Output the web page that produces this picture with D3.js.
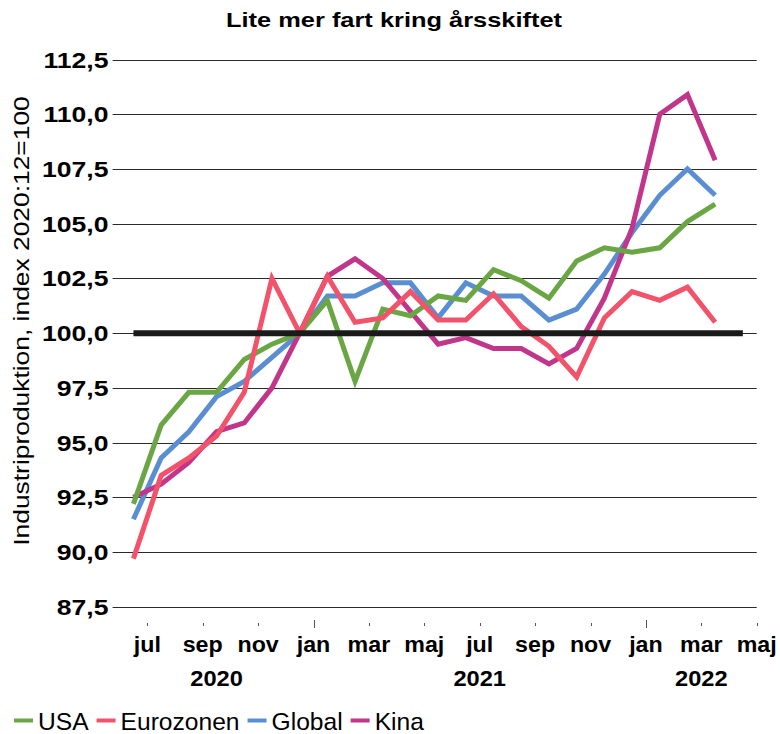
<!DOCTYPE html>
<html>
<head>
<meta charset="utf-8">
<style>
body { margin: 0; background: #fff; }
svg { display: block; }
text { font-family: "Liberation Sans", Arial, sans-serif; fill: #000; }
</style>
</head>
<body>
<svg width="780" height="734"></svg>
<script src="https://cdn.jsdelivr.net/npm/d3@7"></script>
<script>

// monthly values, jun 2020 .. mar 2022 (index 2020:12 = 100)
var usa    = [92.2, 95.8, 97.3, 97.3, 98.8, 99.5, 100.0, 101.5, 97.8, 101.1, 100.8, 101.7, 101.5, 102.9, 102.4, 101.6, 103.3, 103.9, 103.7, 103.9, 105.1, 105.9];
var euro   = [89.7, 93.5, 94.3, 95.3, 97.3, 102.5, 100.0, 102.6, 100.5, 100.7, 101.9, 100.6, 100.6, 101.8, 100.3, 99.4, 98.0, 100.7, 101.9, 101.5, 102.1, 100.5];
var global = [91.5, 94.3, 95.5, 97.1, 97.8, 98.9, 100.0, 101.7, 101.7, 102.3, 102.3, 100.7, 102.3, 101.7, 101.7, 100.6, 101.1, 102.7, 104.6, 106.3, 107.5, 106.3];
var kina   = [92.5, 93.1, 94.1, 95.5, 95.9, 97.5, 100.0, 102.6, 103.4, 102.5, 101.0, 99.5, 99.8, 99.3, 99.3, 98.6, 99.3, 101.6, 104.8, 110.0, 110.9, 107.9];

// reference line at 100, jun 2020 .. apr 2022
var refLevel = 100;
var refMonths = 23;

var seriesNames = ["USA", "Eurozonen", "Global", "Kina"];
var seriesColors = ["#6ba644", "#f2526a", "#5a8ed2", "#c1358b"];
var seriesData = [usa, euro, global, kina];
var drawOrder = [2, 3, 0, 1];

// month ticks, counted from jun 2020 = 0 (tick at start of month)
var tickMonths = [1, 3, 5, 7, 9, 11, 13, 15, 17, 19, 21, 23];
var tickLabels = ["jul", "sep", "nov", "jan", "mar", "maj", "jul", "sep", "nov", "jan", "mar", "maj"];
var janMonths = [7, 19];
var years = ["2020", "2021", "2022"];
var yearSpans = [[0, 7], [7, 19], [19, 23]];

var yTicks = [87.5, 90, 92.5, 95, 97.5, 100, 102.5, 105, 107.5, 110, 112.5];

var svg = d3.select("svg");

var x = d3.scaleLinear().domain([0, 23]).range([119.6, 756.7]);
var y = d3.scaleLinear().domain([87.5, 112.5]).range([606.8, 59.6]);

var fmt = d3.formatLocale({decimal: ",", thousands: " ", grouping: [3], currency: ["", ""]}).format(".1f");

function stext(g, tx, ty, str, size, weight, anchor, sx) {
    return g.append("text")
        .attr("transform", "translate(" + tx + "," + ty + ") scale(" + sx + ",1)")
        .attr("text-anchor", anchor)
        .style("font-size", size + "px")
        .style("font-weight", weight)
        .text(str);
}

// title
stext(svg, 394, 27, "Lite mer fart kring årsskiftet", 21, "bold", "middle", 1.21);

// gridlines + y ticks
var grid = svg.append("g");
grid.selectAll("line.grid")
    .data(yTicks)
    .enter().append("line")
    .attr("class", "grid")
    .attr("x1", x(0) - 7)
    .attr("x2", x(23))
    .attr("y1", function(d) { return Math.round(y(d)) + 0.5; })
    .attr("y2", function(d) { return Math.round(y(d)) + 0.5; })
    .attr("stroke", "#2a2a2a")
    .attr("stroke-width", 1.2);

yTicks.forEach(function(d) {
    stext(svg, 108.5, y(d) + 8, fmt(d), 22.5, "bold", "end", 1.18);
});

// x ticks
svg.selectAll("line.xtick")
    .data(tickMonths)
    .enter().append("line")
    .attr("class", "xtick")
    .attr("x1", function(d) { return Math.round(x(d)) + 0.5; })
    .attr("x2", function(d) { return Math.round(x(d)) + 0.5; })
    .attr("y1", function(d) { return janMonths.indexOf(d) >= 0 ? 620 : 623; })
    .attr("y2", function(d) { return janMonths.indexOf(d) >= 0 ? 628 : 626; })
    .attr("stroke", "#555")
    .attr("stroke-width", 1);

tickMonths.forEach(function(m, i) {
    stext(svg, x(m), 652, tickLabels[i], 21.5, "bold", "middle", 1.08);
});

years.forEach(function(yr, i) {
    var mid = (yearSpans[i][0] + yearSpans[i][1]) / 2;
    stext(svg, x(mid), 686, yr, 21.5, "bold", "middle", 1.1);
});

// y axis title
svg.append("text")
    .attr("transform", "translate(29,321) rotate(-90) scale(1.2,1)")
    .attr("text-anchor", "middle")
    .style("font-size", "22px")
    .text("Industriproduktion, index 2020:12=100");

// series
var line = d3.line()
    .x(function(d, i) { return x(i + 0.5); })
    .y(function(d) { return y(d); });

drawOrder.forEach(function(k) {
    svg.append("path")
        .datum(seriesData[k])
        .attr("d", line)
        .attr("fill", "none")
        .attr("stroke", seriesColors[k])
        .attr("stroke-width", 5)
        .attr("stroke-linejoin", "miter");
});

// 100 line
svg.append("line")
    .attr("x1", x(0.5))
    .attr("x2", x(refMonths - 0.5))
    .attr("y1", y(refLevel))
    .attr("y2", y(refLevel))
    .attr("stroke", "#1a1a1a")
    .attr("stroke-width", 6);

// legend
var lg = svg.append("g");
var lx = 14;
seriesNames.forEach(function(name, i) {
    lg.append("line")
        .attr("x1", lx).attr("x2", lx + 19)
        .attr("y1", 720.5).attr("y2", 720.5)
        .attr("stroke", seriesColors[i])
        .attr("stroke-width", 4);
    var t = lg.append("text")
        .attr("x", lx + 24)
        .attr("y", 729.5)
        .style("font-size", "24.6px")
        .text(name);
    lx += 24 + t.node().getComputedTextLength() + 8;
});

</script>
</body>
</html>
